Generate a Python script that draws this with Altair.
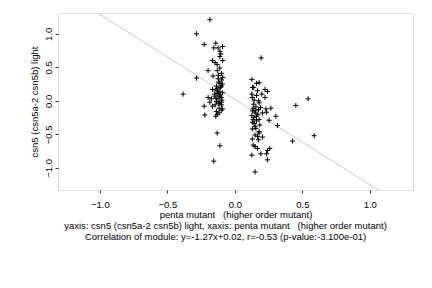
import altair as alt
import pandas as pd

# left cluster (around x = -0.12)
left_x = [-0.185, -0.284, -0.227, -0.141, -0.156, -0.124, -0.091, -0.104, -0.111, -0.165,
          -0.146, -0.131, -0.198, -0.111, -0.099, -0.121, -0.284, -0.161, -0.124, -0.099,
          -0.111, -0.091, -0.136, -0.106, -0.165, -0.141, -0.116, -0.091, -0.131, -0.383,
          -0.148, -0.111, -0.198, -0.173, -0.124, -0.096, -0.136, -0.185, -0.111, -0.146,
          -0.099, -0.227, -0.165, -0.116, -0.091, -0.136, -0.116, -0.222, -0.141, -0.131,
          -0.111, -0.156,
          -0.12, -0.10, -0.13, -0.09, -0.11, -0.14, -0.10, -0.12, -0.09, -0.11,
          -0.13, -0.10, -0.15, -0.12, -0.10, -0.13]
left_y = [1.21, 1.00, 0.84, 0.86, 0.79, 0.79, 0.81, 0.70, 0.66, 0.60,
          0.57, 0.54, 0.45, 0.49, 0.41, 0.38, 0.34, 0.37, 0.33, 0.31,
          0.26, 0.25, 0.22, 0.20, 0.17, 0.16, 0.14, 0.12, 0.11, 0.10,
          0.07, 0.07, 0.05, 0.03, 0.03, 0.01, -0.01, -0.02, -0.03, -0.06,
          -0.06, -0.08, -0.08, -0.11, -0.12, -0.16, -0.18, -0.21, -0.23, -0.48,
          -0.67, -0.90,
          0.28, 0.22, 0.18, 0.35, 0.09, 0.04, -0.02, -0.04, 0.60, 0.74,
          0.45, 0.05, 0.10, 0.12, -0.14, -0.20]

# right cluster (around x = 0.17) and outliers
right_x = [0.195, 0.126, 0.161, 0.180, 0.131, 0.168, 0.224, 0.242, 0.224, 0.126,
           0.143, 0.176, 0.180, 0.156, 0.136, 0.176, 0.230, 0.267, 0.150, 0.205,
           0.126, 0.161, 0.235, 0.304, 0.136, 0.180, 0.254, 0.143, 0.185, 0.156,
           0.316, 0.180, 0.150, 0.168, 0.205, 0.176, 0.136, 0.150, 0.168, 0.259,
           0.242, 0.126, 0.193, 0.235, 0.242, 0.150,
           0.452, 0.543, 0.588, 0.427,
           0.13, 0.14, 0.13, 0.14, 0.13, 0.15, 0.16, 0.14, 0.17, 0.13,
           0.15, 0.16, 0.19, 0.20, 0.18, 0.13]
right_y = [0.64, 0.32, 0.26, 0.27, 0.20, 0.15, 0.17, 0.14, 0.05, 0.10,
           0.01, 0.00, -0.03, -0.09, -0.11, -0.13, -0.12, -0.11, -0.18, -0.18,
           -0.22, -0.23, -0.17, -0.23, -0.28, -0.28, -0.29, -0.34, -0.36, -0.41,
           -0.37, -0.46, -0.51, -0.53, -0.54, -0.58, -0.66, -0.68, -0.71, -0.71,
           -0.74, -0.81, -0.79, -0.79, -0.88, -1.06,
           -0.07, 0.03, -0.52, -0.60,
           0.05, -0.05, -0.15, -0.25, -0.32, -0.38, 0.08, 0.20, -0.20, -0.42,
           -0.15, -0.30, -0.10, 0.10, -0.48, -0.57]

slope = -1.27
intercept = 0.02
line_x = [-1.4, 1.4]

ticks = [-1.0, -0.5, 0.0, 0.5, 1.0]
x_domain = [-1.31, 1.32]
y_domain = [-1.33, 1.31]

x_title = "penta mutant\u00a0\u00a0 (higher order mutant)"
y_title = "csn5 (csn5a-2 csn5b) light"
caption1 = "yaxis: csn5 (csn5a-2 csn5b) light, xaxis: penta mutant\u00a0\u00a0 (higher order mutant)"
caption2 = "Correlation of module: y=-1.27x+0.02, r=-0.53 (p-value:-3.100e-01)"

pts = pd.DataFrame({"x": left_x + right_x, "y": left_y + right_y})
ln = pd.DataFrame({"x": line_x, "y": [slope * v + intercept for v in line_x]})

FONT = "Liberation Sans"
FS = 9.5

xs = alt.Scale(domain=x_domain, nice=False, zero=False)
ys = alt.Scale(domain=y_domain, nice=False, zero=False)

xaxis = alt.Axis(values=ticks, format=".1f", title=x_title, grid=False, domain=False,
                 tickSize=3, tickColor="#333333", labelPadding=6, titlePadding=1,
                 labelFontSize=FS, titleFontSize=FS, labelFont=FONT, titleFont=FONT,
                 titleFontWeight="normal", labelColor="black", titleColor="black")
yaxis = alt.Axis(values=ticks, format=".1f", title=y_title, grid=False, domain=False,
                 tickSize=3, tickColor="#333333", labelAngle=270, labelAlign="center",
                 labelBaseline="alphabetic", labelPadding=4, titlePadding=4,
                 labelFontSize=FS, titleFontSize=FS, labelFont=FONT, titleFont=FONT,
                 titleFontWeight="normal", labelColor="black", titleColor="black")

line = alt.Chart(ln).mark_line(color="#c8c8c8", strokeWidth=1, clip=True).encode(
    x=alt.X("x:Q", scale=xs, axis=xaxis),
    y=alt.Y("y:Q", scale=ys, axis=yaxis),
)

points = alt.Chart(pts).mark_point(
    shape="M-1,0H1M0,-1V1", filled=False, color="black", strokeWidth=1, size=26, opacity=1
).encode(
    x=alt.X("x:Q", scale=xs),
    y=alt.Y("y:Q", scale=ys),
)

chart = (line + points).properties(
    width=355, height=177,
    padding={"left": 58, "top": 13, "right": 19, "bottom": 98},
    autosize=alt.AutoSizeParams(type="none"),
    title=alt.TitleParams(text=caption1, subtitle=caption2, orient="bottom", anchor="middle",
                          frame="group", dx=-10, offset=2, fontSize=FS, subtitleFontSize=FS,
                          font=FONT, subtitleFont=FONT, fontWeight="normal",
                          color="black", subtitleColor="black", subtitlePadding=1.5),
).configure_view(stroke="#808080", strokeWidth=1).configure(background="white")

chart.save("out.html", embed_options={"renderer": "svg", "actions": False})
